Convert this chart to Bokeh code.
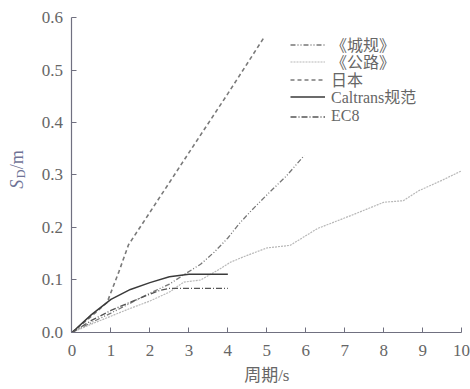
import math
from bokeh.plotting import figure
from bokeh.models import Range1d, Legend, LegendItem, Label, FixedTicker
from bokeh.embed import file_html
from bokeh.resources import INLINE

# ---- data ----
T_city = [0, 0.5, 1.0, 1.5, 2.0, 2.5, 2.87, 3.3, 3.65, 4.0, 4.3, 4.6, 5.0, 5.5, 5.96]
SD_city = [0, 0.019, 0.037, 0.056, 0.075, 0.092, 0.110, 0.130, 0.153, 0.180, 0.208, 0.232, 0.262, 0.298, 0.337]

T_road = [0, 0.5, 1.0, 1.5, 2.0, 2.5, 2.87, 3.3, 3.73, 4.07, 4.5, 5.0, 5.6, 6.3, 7.2, 8.0, 8.5, 8.9, 9.5, 10.0]
SD_road = [0, 0.016, 0.031, 0.046, 0.060, 0.077, 0.096, 0.100, 0.118, 0.134, 0.147, 0.161, 0.166, 0.198, 0.224, 0.248, 0.251, 0.270, 0.290, 0.308]

T_jp = [0, 0.5, 0.9, 1.2, 1.45, 2.0, 3.05, 4.0, 4.92]
SD_jp = [0, 0.031, 0.057, 0.115, 0.167, 0.229, 0.348, 0.455, 0.561]

T_cal = [0, 0.5, 1.0, 1.5, 2.0, 2.5, 3.0, 4.0]
SD_cal = [0, 0.034, 0.063, 0.082, 0.095, 0.106, 0.111, 0.111]

T_ec8 = [0, 0.5, 1.0, 1.5, 2.0, 2.25, 2.5, 4.0]
SD_ec8 = [0, 0.023, 0.042, 0.058, 0.073, 0.080, 0.084, 0.084]

names = ["《城规》", "《公路》", "日本", "Caltrans规范", "EC8"]
x_ticks = [0, 1, 2, 3, 4, 5, 6, 7, 8, 9, 10]
y_ticks = [0.0, 0.1, 0.2, 0.3, 0.4, 0.5, 0.6]
x_title = "周期/s"

SERIF = "'Liberation Serif', 'Noto Sans CJK SC', serif"
AXIS_COLOR = "#707080"
TEXT_COLOR = "#666666"
YL_COLOR = "#6f7396"

# The frame fills the canvas; both axes are pinned at 0 with bounded lines,
# so the tick labels and titles are drawn inside the frame.
p = figure(width=470, height=389, output_backend="svg", toolbar_location=None,
           x_range=Range1d(-1.835, 10.228), y_range=Range1d(-0.1086, 0.6324),
           min_border_left=0, min_border_right=0, min_border_top=0, min_border_bottom=0)
p.outline_line_color = None
p.xgrid.visible = False
p.ygrid.visible = False
p.background_fill_color = "white"

for ax in (p.xaxis[0], p.yaxis[0]):
    ax.axis_line_color = AXIS_COLOR
    ax.axis_line_width = 1.2
    ax.major_tick_line_color = AXIS_COLOR
    ax.major_tick_in = 5
    ax.major_tick_out = 0
    ax.minor_tick_line_color = None
    ax.major_label_text_font = SERIF
    ax.major_label_text_font_size = "17px"
    ax.major_label_text_color = TEXT_COLOR

p.yaxis.fixed_location = 0
p.xaxis.fixed_location = 0
p.xaxis.bounds = (0, 10)
p.yaxis.bounds = (0, 0.6)
p.xaxis.ticker = FixedTicker(ticks=x_ticks)
p.yaxis.ticker = FixedTicker(ticks=y_ticks)
p.yaxis.major_label_overrides = {v: f"{v:.1f}" for v in y_ticks}
p.xaxis.major_label_overrides = {v: str(v) for v in x_ticks}
p.xaxis.major_label_standoff = 13
p.yaxis.major_label_standoff = 9

r_city = p.line(T_city, SD_city, line_color="#777777", line_width=1.3, line_dash="5 2 1 2 1 2")
r_road = p.line(T_road, SD_road, line_color="#b8b8b8", line_width=1.2, line_dash="2 1")
r_jp = p.line(T_jp, SD_jp, line_color="#7a7a7a", line_width=1.6, line_dash="4 3")
r_cal = p.line(T_cal, SD_cal, line_color="#3a3a3a", line_width=1.5)
r_ec8 = p.line(T_ec8, SD_ec8, line_color="#555555", line_width=1.3, line_dash="6 2 1 2")

# one single-item legend per row, so the row pitch matches the reference
legend_y = [333, 316, 298, 281, 264]
for n, r, ly in zip(names, [r_city, r_road, r_jp, r_cal, r_ec8], legend_y):
    lg = Legend(items=[LegendItem(label=n, renderers=[r])], location=(290, ly))
    lg.label_text_font = SERIF
    lg.label_text_font_size = "16px"
    lg.label_text_color = TEXT_COLOR
    lg.label_height = 17
    lg.glyph_height = 17
    lg.glyph_width = 35
    lg.label_standoff = 6
    lg.padding = 0
    lg.margin = 0
    lg.border_line_alpha = 0
    lg.background_fill_alpha = 0
    p.add_layout(lg)

# axis titles
p.add_layout(Label(x=5, y=-0.082, text=x_title, text_font=SERIF, text_font_size="17px",
                   text_color=TEXT_COLOR, text_align="center", text_baseline="middle"))
p.add_layout(Label(x=-1.40, y=0.274, text="S", angle=math.pi / 2,
                   text_font=SERIF, text_font_style="italic", text_font_size="18px",
                   text_color=YL_COLOR, text_baseline="alphabetic", text_align="left"))
p.add_layout(Label(x=-1.32, y=0.294, text="D", angle=math.pi / 2,
                   text_font=SERIF, text_font_size="12px",
                   text_color=YL_COLOR, text_baseline="alphabetic", text_align="left"))
p.add_layout(Label(x=-1.40, y=0.311, text="/m", angle=math.pi / 2,
                   text_font=SERIF, text_font_size="18px",
                   text_color=YL_COLOR, text_baseline="alphabetic", text_align="left"))

open("out.html", "w").write(file_html(p, INLINE))
